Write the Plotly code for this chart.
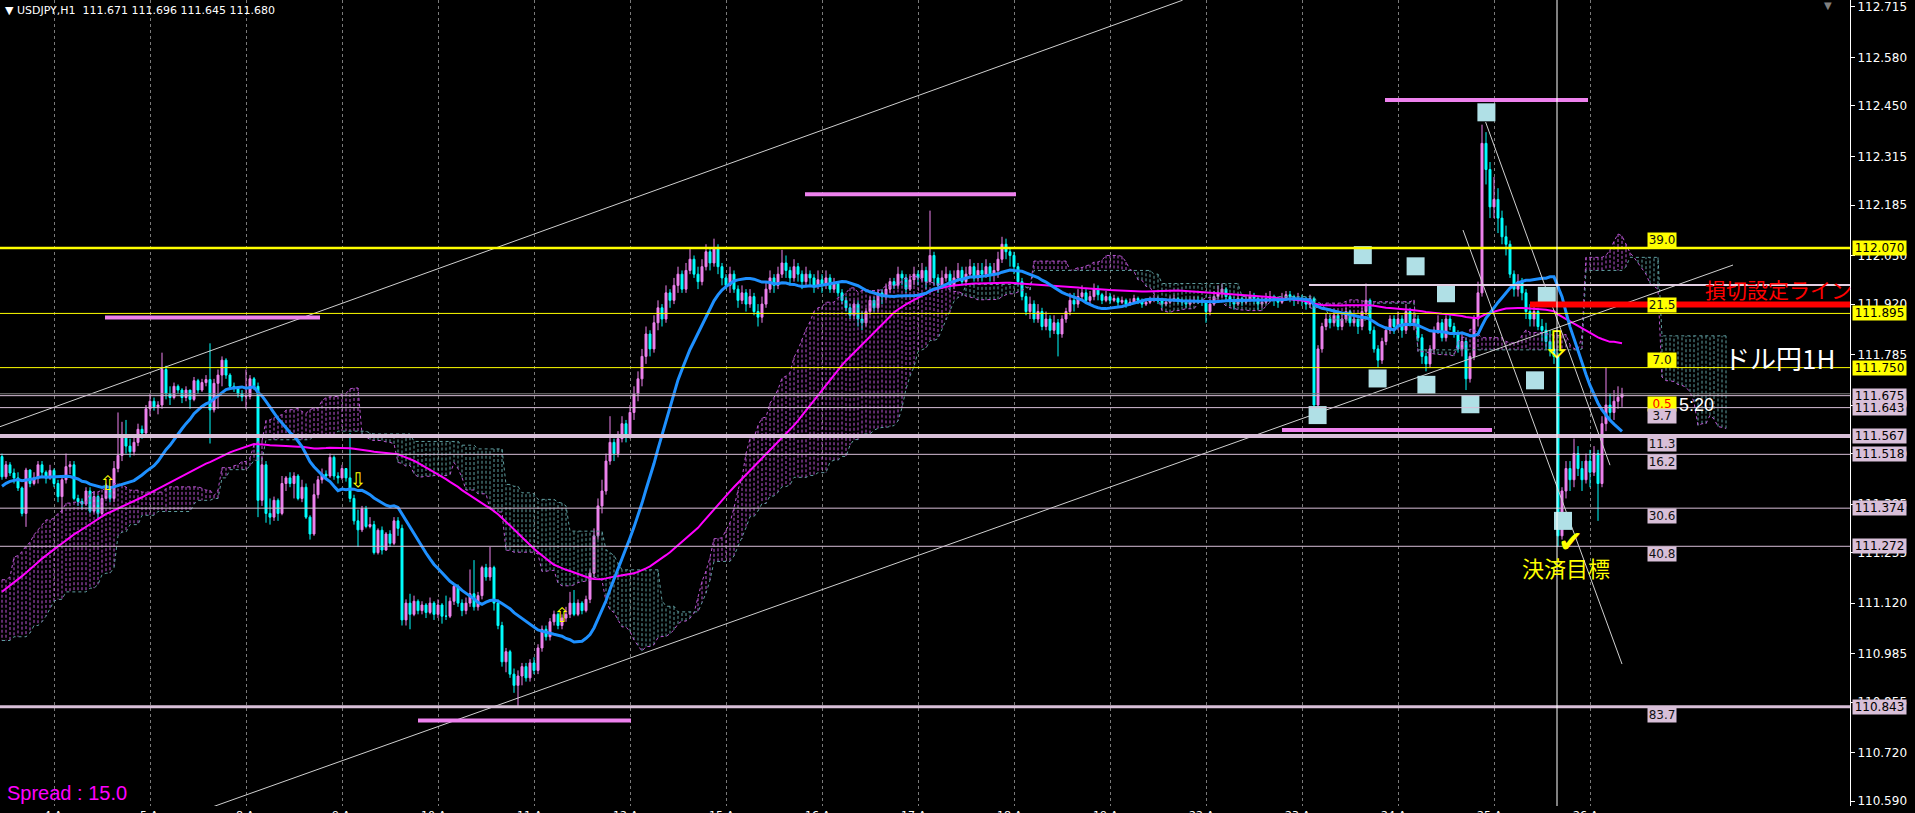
import numpy as np
import pandas as pd
import plotly.graph_objects as go

# ---------------- USDJPY H1 (April 2019) ----------------
# closes before the first visible bar (only used to warm up the indicators)
pre_close = [
    110.76, 110.78, 110.74, 110.80, 110.83, 110.79, 110.77, 110.81, 110.85, 110.82,
    110.78, 110.75, 110.72, 110.76, 110.80, 110.84, 110.81, 110.86, 110.88, 110.85,
    110.83, 110.87, 110.90, 110.86, 110.82, 110.84, 110.89, 110.92, 110.88, 110.91,
    111.08, 111.12, 111.10, 111.15, 111.18, 111.14, 111.20, 111.24, 111.21, 111.19,
    111.23, 111.27, 111.25, 111.22, 111.26, 111.30, 111.28, 111.24, 111.21, 111.25,
    111.29, 111.32, 111.30, 111.27, 111.31, 111.34, 111.31, 111.28, 111.33, 111.36,
    111.40, 111.38, 111.42, 111.45, 111.43, 111.39, 111.41, 111.44, 111.48, 111.46,
    111.43, 111.40, 111.44, 111.47, 111.50, 111.48, 111.45, 111.512,
]

close_apr03 = [111.458, 111.490, 111.468, 111.455, 111.428, 111.360, 111.476, 111.440, 111.455, 111.490, 111.470, 111.455, 111.475]
high_apr03 = [111.520, 111.500, 111.497, 111.480, 111.470, 111.432, 111.482, 111.478, 111.470, 111.500, 111.500, 111.475, 111.490]
low_apr03 = [111.450, 111.452, 111.460, 111.440, 111.420, 111.352, 111.324, 111.430, 111.435, 111.440, 111.460, 111.440, 111.450]

close_apr04 = [111.440, 111.405, 111.450, 111.485, 111.490, 111.400, 111.392, 111.385, 111.420, 111.366, 111.405, 111.360, 111.400, 111.425, 111.400, 111.480, 111.515, 111.570, 111.540, 111.525, 111.550, 111.585, 111.575, 111.640]
high_apr04 = [111.480, 111.450, 111.460, 111.520, 111.500, 111.500, 111.410, 111.400, 111.430, 111.430, 111.420, 111.410, 111.410, 111.440, 111.430, 111.500, 111.630, 111.605, 111.610, 111.560, 111.570, 111.600, 111.595, 111.650]
low_apr04 = [111.430, 111.390, 111.360, 111.440, 111.465, 111.395, 111.380, 111.370, 111.380, 111.360, 111.360, 111.345, 111.355, 111.400, 111.390, 111.390, 111.470, 111.500, 111.520, 111.510, 111.515, 111.540, 111.560, 111.570]

close_apr05 = [111.660, 111.645, 111.650, 111.745, 111.680, 111.670, 111.700, 111.690, 111.670, 111.690, 111.665, 111.715, 111.690, 111.710, 111.718, 111.637, 111.708, 111.730, 111.770, 111.730, 111.700, 111.695, 111.680, 111.672]
high_apr05 = [111.680, 111.670, 111.660, 111.790, 111.755, 111.700, 111.710, 111.705, 111.695, 111.700, 111.690, 111.725, 111.720, 111.720, 111.730, 111.815, 111.720, 111.745, 111.780, 111.775, 111.735, 111.710, 111.700, 111.690]
low_apr05 = [111.620, 111.635, 111.625, 111.640, 111.665, 111.650, 111.665, 111.680, 111.655, 111.660, 111.640, 111.660, 111.680, 111.685, 111.700, 111.547, 111.630, 111.640, 111.700, 111.720, 111.690, 111.685, 111.670, 111.660]

close_apr08 = [111.673, 111.720, 111.700, 111.395, 111.490, 111.360, 111.350, 111.395, 111.360, 111.440, 111.455, 111.440, 111.460, 111.400, 111.430, 111.350, 111.305, 111.410, 111.450, 111.465, 111.460, 111.510, 111.460, 111.455]
high_apr08 = [111.745, 111.730, 111.725, 111.710, 111.510, 111.500, 111.400, 111.405, 111.400, 111.460, 111.460, 111.470, 111.470, 111.465, 111.450, 111.440, 111.355, 111.440, 111.460, 111.480, 111.475, 111.520, 111.515, 111.470]
low_apr08 = [111.640, 111.665, 111.690, 111.350, 111.380, 111.335, 111.330, 111.340, 111.340, 111.355, 111.420, 111.430, 111.400, 111.395, 111.390, 111.345, 111.290, 111.300, 111.400, 111.440, 111.450, 111.455, 111.450, 111.440]

close_apr09 = [111.480, 111.455, 111.400, 111.340, 111.316, 111.373, 111.325, 111.330, 111.255, 111.315, 111.262, 111.305, 111.280, 111.340, 111.320, 111.075, 111.120, 111.090, 111.125, 111.100, 111.115, 111.095, 111.120, 111.090]
high_apr09 = [111.490, 111.480, 111.575, 111.410, 111.370, 111.380, 111.380, 111.350, 111.340, 111.320, 111.325, 111.310, 111.315, 111.350, 111.350, 111.330, 111.130, 111.145, 111.140, 111.130, 111.125, 111.120, 111.135, 111.125]
low_apr09 = [111.450, 111.445, 111.390, 111.330, 111.270, 111.310, 111.320, 111.320, 111.250, 111.250, 111.250, 111.260, 111.270, 111.275, 111.300, 111.060, 111.060, 111.050, 111.085, 111.090, 111.090, 111.080, 111.090, 111.075]

close_apr10 = [111.115, 111.085, 111.085, 111.125, 111.165, 111.120, 111.100, 111.120, 111.145, 111.110, 111.140, 111.215, 111.190, 111.215, 111.120, 111.060, 110.963, 110.990, 110.930, 110.900, 110.925, 110.950, 110.920, 110.960]
high_apr10 = [111.130, 111.120, 111.140, 111.135, 111.170, 111.170, 111.130, 111.135, 111.210, 111.235, 111.150, 111.220, 111.225, 111.270, 111.220, 111.130, 111.070, 111.000, 110.995, 110.945, 110.940, 110.960, 110.960, 110.970]
low_apr10 = [111.080, 111.065, 111.075, 111.080, 111.115, 111.110, 111.085, 111.090, 111.110, 111.100, 111.100, 111.130, 111.180, 111.180, 111.100, 111.050, 110.950, 110.935, 110.920, 110.880, 110.843, 110.900, 110.910, 110.910]

close_apr11 = [110.940, 111.000, 111.050, 111.030, 111.070, 111.090, 111.060, 111.080, 111.090, 111.120, 111.090, 111.120, 111.100, 111.130, 111.200, 111.300, 111.380, 111.420, 111.500, 111.550, 111.520, 111.560, 111.600, 111.570]
high_apr11 = [110.975, 111.010, 111.060, 111.060, 111.080, 111.100, 111.095, 111.090, 111.110, 111.150, 111.155, 111.130, 111.125, 111.140, 111.210, 111.320, 111.400, 111.450, 111.520, 111.620, 111.560, 111.580, 111.620, 111.610]
low_apr11 = [110.930, 110.930, 110.990, 111.020, 111.020, 111.060, 111.050, 111.050, 111.070, 111.080, 111.085, 111.085, 111.090, 111.095, 111.120, 111.190, 111.290, 111.360, 111.410, 111.490, 111.500, 111.510, 111.550, 111.550]

close_apr12 = [111.630, 111.680, 111.720, 111.780, 111.840, 111.800, 111.870, 111.910, 111.880, 111.950, 111.930, 111.970, 112.000, 111.960, 112.010, 112.040, 112.000, 111.980, 112.020, 112.060, 112.030, 112.070, 112.020, 111.990]
high_apr12 = [111.650, 111.700, 111.740, 111.800, 111.860, 111.850, 111.890, 111.930, 111.920, 111.970, 111.960, 111.990, 112.020, 112.010, 112.030, 112.070, 112.050, 112.020, 112.040, 112.080, 112.070, 112.095, 112.080, 112.030]
low_apr12 = [111.560, 111.610, 111.660, 111.700, 111.760, 111.780, 111.790, 111.850, 111.860, 111.870, 111.910, 111.920, 111.950, 111.950, 111.950, 112.000, 111.990, 111.960, 111.970, 112.010, 112.010, 112.020, 112.000, 111.970]

close_apr15 = [111.970, 112.000, 111.960, 111.930, 111.950, 111.920, 111.940, 111.900, 111.885, 111.920, 111.960, 111.990, 111.970, 112.000, 112.030, 112.010, 111.990, 112.020, 112.000, 111.980, 112.000, 111.990, 111.970, 111.985]
high_apr15 = [112.000, 112.020, 112.010, 111.970, 111.970, 111.960, 111.960, 111.950, 111.920, 111.940, 111.980, 112.010, 112.000, 112.020, 112.065, 112.050, 112.020, 112.040, 112.030, 112.010, 112.020, 112.010, 112.000, 112.010]
low_apr15 = [111.960, 111.950, 111.950, 111.910, 111.920, 111.900, 111.910, 111.890, 111.860, 111.870, 111.910, 111.950, 111.950, 111.960, 111.990, 111.990, 111.970, 111.980, 111.980, 111.960, 111.970, 111.970, 111.950, 111.960]

close_apr16 = [111.970, 111.990, 111.960, 111.975, 111.950, 111.930, 111.910, 111.890, 111.920, 111.880, 111.870, 111.900, 111.930, 111.910, 111.950, 111.940, 111.960, 111.980, 111.970, 112.000, 111.990, 111.960, 111.985, 112.000]
high_apr16 = [112.000, 112.010, 112.000, 111.990, 111.980, 111.960, 111.940, 111.920, 111.930, 111.930, 111.900, 111.910, 111.940, 111.940, 111.960, 111.960, 111.975, 111.990, 111.990, 112.020, 112.010, 112.000, 112.000, 112.020]
low_apr16 = [111.950, 111.960, 111.950, 111.950, 111.940, 111.920, 111.900, 111.880, 111.880, 111.860, 111.850, 111.860, 111.890, 111.900, 111.900, 111.920, 111.930, 111.950, 111.960, 111.960, 111.970, 111.950, 111.955, 111.970]

close_apr17 = [111.990, 112.010, 111.980, 112.050, 111.990, 111.970, 111.990, 112.000, 111.970, 111.990, 112.010, 111.980, 112.000, 112.020, 111.990, 112.010, 112.000, 112.020, 112.000, 112.010, 112.040, 112.080, 112.060, 112.050]
high_apr17 = [112.010, 112.030, 112.020, 112.170, 112.060, 112.000, 112.010, 112.020, 112.010, 112.010, 112.030, 112.020, 112.020, 112.040, 112.030, 112.030, 112.030, 112.040, 112.030, 112.030, 112.060, 112.100, 112.095, 112.070]
low_apr17 = [111.970, 111.980, 111.960, 111.980, 111.970, 111.950, 111.960, 111.980, 111.960, 111.960, 111.980, 111.970, 111.970, 111.990, 111.980, 111.980, 111.980, 111.990, 111.980, 111.980, 111.990, 112.030, 112.040, 112.020]

close_apr18 = [112.020, 111.980, 111.940, 111.900, 111.920, 111.880, 111.900, 111.860, 111.880, 111.850, 111.870, 111.840, 111.880, 111.900, 111.930, 111.920, 111.940, 111.950, 111.930, 111.940, 111.960, 111.945, 111.930, 111.940]
high_apr18 = [112.060, 112.030, 111.990, 111.950, 111.940, 111.930, 111.920, 111.910, 111.900, 111.890, 111.890, 111.880, 111.890, 111.910, 111.950, 111.950, 111.960, 111.970, 111.960, 111.955, 111.975, 111.970, 111.950, 111.955]
low_apr18 = [112.000, 111.970, 111.930, 111.890, 111.880, 111.870, 111.870, 111.850, 111.850, 111.830, 111.840, 111.780, 111.830, 111.870, 111.890, 111.900, 111.910, 111.930, 111.920, 111.920, 111.930, 111.930, 111.920, 111.925]

close_apr19 = [111.930, 111.935, 111.925, 111.930, 111.920, 111.925, 111.935, 111.930, 111.920, 111.925, 111.930, 111.935, 111.928, 111.920, 111.925, 111.930, 111.935, 111.930, 111.925, 111.920, 111.925, 111.930, 111.928, 111.925]
high_apr19 = [111.950, 111.945, 111.940, 111.940, 111.935, 111.935, 111.945, 111.940, 111.935, 111.935, 111.940, 111.945, 111.940, 111.935, 111.935, 111.940, 111.945, 111.940, 111.935, 111.935, 111.935, 111.940, 111.940, 111.935]
low_apr19 = [111.920, 111.925, 111.915, 111.920, 111.910, 111.915, 111.920, 111.920, 111.910, 111.915, 111.920, 111.925, 111.920, 111.910, 111.915, 111.920, 111.925, 111.920, 111.915, 111.910, 111.915, 111.920, 111.920, 111.915]

close_apr22 = [111.900, 111.920, 111.940, 111.950, 111.960, 111.940, 111.930, 111.920, 111.935, 111.925, 111.930, 111.940, 111.935, 111.920, 111.925, 111.935, 111.940, 111.930, 111.925, 111.935, 111.945, 111.940, 111.930, 111.935]
high_apr22 = [111.930, 111.935, 111.955, 111.970, 111.975, 111.965, 111.945, 111.940, 111.945, 111.940, 111.945, 111.955, 111.950, 111.940, 111.940, 111.950, 111.955, 111.945, 111.940, 111.950, 111.955, 111.955, 111.945, 111.950]
low_apr22 = [111.870, 111.890, 111.915, 111.930, 111.935, 111.930, 111.915, 111.905, 111.915, 111.915, 111.920, 111.925, 111.920, 111.905, 111.910, 111.920, 111.925, 111.915, 111.910, 111.920, 111.930, 111.925, 111.915, 111.920]

close_apr23 = [111.930, 111.920, 111.935, 111.650, 111.800, 111.860, 111.880, 111.870, 111.890, 111.860, 111.880, 111.900, 111.870, 111.880, 111.860, 111.900, 111.930, 111.850, 111.800, 111.770, 111.820, 111.850, 111.880, 111.860]
high_apr23 = [111.945, 111.940, 111.945, 111.940, 111.810, 111.870, 111.895, 111.890, 111.905, 111.895, 111.890, 111.910, 111.905, 111.890, 111.880, 111.910, 111.975, 111.935, 111.860, 111.810, 111.830, 111.860, 111.890, 111.890]
low_apr23 = [111.915, 111.905, 111.910, 111.620, 111.640, 111.790, 111.850, 111.855, 111.860, 111.850, 111.850, 111.870, 111.860, 111.860, 111.840, 111.850, 111.890, 111.840, 111.790, 111.750, 111.760, 111.810, 111.840, 111.840]

close_apr24 = [111.880, 111.850, 111.900, 111.870, 111.880, 111.830, 111.780, 111.760, 111.800, 111.850, 111.870, 111.830, 111.880, 111.860, 111.840, 111.800, 111.820, 111.720, 111.780, 111.880, 111.950, 112.350, 112.280, 112.180]
high_apr24 = [111.900, 111.890, 111.920, 111.910, 111.900, 111.890, 111.840, 111.790, 111.810, 111.860, 111.890, 111.880, 111.890, 111.890, 111.870, 111.850, 111.840, 111.830, 111.790, 111.890, 111.980, 112.400, 112.380, 112.300]
low_apr24 = [111.850, 111.830, 111.840, 111.860, 111.850, 111.820, 111.760, 111.740, 111.750, 111.790, 111.840, 111.820, 111.820, 111.850, 111.830, 111.790, 111.780, 111.690, 111.710, 111.770, 111.860, 111.940, 112.240, 112.150]

close_apr25 = [112.200, 112.150, 112.100, 112.080, 112.000, 111.960, 111.980, 111.950, 111.900, 111.880, 111.900, 111.860, 111.850, 111.820, 111.800, 111.780, 111.300, 111.420, 111.480, 111.450, 111.520, 111.480, 111.450, 111.500]
high_apr25 = [112.260, 112.230, 112.170, 112.130, 112.090, 112.010, 112.000, 111.990, 111.960, 111.920, 111.920, 111.910, 111.880, 111.870, 111.850, 111.820, 111.790, 111.430, 111.500, 111.500, 111.560, 111.540, 111.500, 111.520]
low_apr25 = [112.150, 112.110, 112.080, 112.050, 111.990, 111.940, 111.940, 111.930, 111.880, 111.860, 111.860, 111.850, 111.820, 111.800, 111.780, 111.760, 111.270, 111.290, 111.400, 111.420, 111.430, 111.460, 111.420, 111.440]

close_apr26 = [111.470, 111.520, 111.440, 111.600, 111.650, 111.630, 111.660, 111.671, 111.680]
high_apr26 = [111.530, 111.540, 111.530, 111.620, 111.750, 111.680, 111.690, 111.700, 111.696]
low_apr26 = [111.430, 111.460, 111.340, 111.430, 111.580, 111.610, 111.610, 111.640, 111.645]

day_labels = ["4 Apr", "5 Apr", "8 Apr", "9 Apr", "10 Apr", "11 Apr", "12 Apr", "15 Apr", "16 Apr",
              "17 Apr", "18 Apr", "19 Apr", "22 Apr", "23 Apr", "24 Apr", "25 Apr", "26 Apr"]
day_start_bar = [13, 37, 61, 85, 109, 133, 157, 181, 205, 229, 253, 277, 301, 325, 349, 373, 397]

price_ticks = [112.715, 112.580, 112.450, 112.315, 112.185, 112.050, 111.920, 111.785, 111.650,
               111.520, 111.385, 111.255, 111.120, 110.985, 110.855, 110.720, 110.590]

# horizontal levels with distance (pips) labels
level_prices = [112.070, 111.895, 111.750, 111.675, 111.643, 111.567, 111.518, 111.374, 111.272, 110.843]
level_pips = ["39.0", "21.5", "7.0", "0.5", "3.7", "11.3", "16.2", "30.6", "40.8", "83.7"]
level_kind = ["y", "y", "y", "p", "p", "p", "p", "p", "p", "p"]
level_width = [2.5, 1, 1, 1, 1, 4, 1, 1, 1, 3]
bid_price = 111.680
stop_price = 111.919
stop_from_bar = 382
box_top_price = 111.971
box_top_from_bar = 326.75
pip_label_bar = 411.25
vline_bar = 388.75

# violet support/resistance segments
seg_x0 = [25.75, 200.75, 345.75, 104.0, 320.0]
seg_x1 = [79.5, 253.5, 396.5, 157.25, 372.5]
seg_y = [111.884, 112.214, 112.466, 110.806, 111.583]

# white trend lines (bar, price) pairs
trend_x = [[-0.5, 295.15], [48.5, 432.75], [370.9, 402.0], [365.25, 405.0]]
trend_y = [[111.592, 112.733], [110.559, 112.0245], [112.407, 111.489], [112.118, 110.957]]

# light-blue marker squares
sq_bar = [340.2, 353.4, 361.0, 343.9, 356.1, 367.1, 328.9, 371.1, 386.2, 383.25, 390.25]
sq_price = [112.051, 112.021, 111.949, 111.721, 111.704, 111.652, 111.623, 112.433, 111.942, 111.716, 111.340]

# yellow arrows
arrow_bar = [26.4, 89.0, 140.0, 388.75]
arrow_price = [111.437, 111.445, 111.084, 111.800]
arrow_sym = ["⇧", "⇩", "⇧", "⇩"]
arrow_size = [20, 20, 20, 38]

# ---------------- assemble ----------------
days_close = [close_apr03, close_apr04, close_apr05, close_apr08, close_apr09, close_apr10, close_apr11,
              close_apr12, close_apr15, close_apr16, close_apr17, close_apr18, close_apr19, close_apr22,
              close_apr23, close_apr24, close_apr25, close_apr26]
days_high = [high_apr03, high_apr04, high_apr05, high_apr08, high_apr09, high_apr10, high_apr11,
             high_apr12, high_apr15, high_apr16, high_apr17, high_apr18, high_apr19, high_apr22,
             high_apr23, high_apr24, high_apr25, high_apr26]
days_low = [low_apr03, low_apr04, low_apr05, low_apr08, low_apr09, low_apr10, low_apr11,
            low_apr12, low_apr15, low_apr16, low_apr17, low_apr18, low_apr19, low_apr22,
            low_apr23, low_apr24, low_apr25, low_apr26]

close = np.array([v for d in days_close for v in d])
high = np.array([v for d in days_high for v in d])
low = np.array([v for d in days_low for v in d])
n = min(len(close), len(high), len(low))
close, high, low = close[:n], high[:n], low[:n]
opn = np.concatenate([[pre_close[-1]], close[:-1]])
high = np.maximum(high, np.maximum(opn, close))
low = np.minimum(low, np.minimum(opn, close))
bars = np.arange(n)

P = len(pre_close)
all_c = pd.Series(list(pre_close) + list(close))
all_h = pd.Series(list(pre_close) + list(high))
all_l = pd.Series(list(pre_close) + list(low))
ma_fast = all_c.rolling(21).mean().values[P:]
ma_slow = all_c.rolling(75).mean().values[P:]
tenkan = (all_h.rolling(9).max() + all_l.rolling(9).min()) / 2
kijun = (all_h.rolling(26).max() + all_l.rolling(26).min()) / 2
span_a_raw = ((tenkan + kijun) / 2).values
span_b_raw = ((all_h.rolling(52).max() + all_l.rolling(52).min()) / 2).values
cloud_t = np.arange(0, n + 26)
src = cloud_t + P - 26
span_a = span_a_raw[src]
span_b = span_b_raw[src]

VIOLET = "#EE82EE"
CYAN = "#00FFFF"
THISTLE = "#D8BFD8"
YELLOW = "#FFFF00"
PINK_CLOUD = "#BA55D3"
TEAL_CLOUD = "#5F9EA0"

X_MIN, X_MAX = -0.5, 462.0
Y_MIN, Y_MAX = 110.5772, 112.7335

fig = go.Figure()

# cloud hatch
for col, up in ((PINK_CLOUD, True), (TEAL_CLOUD, False)):
    xs, ys = [], []
    for t, a, b in zip(cloud_t, span_a, span_b):
        if np.isnan(a) or np.isnan(b):
            continue
        if (a >= b) == up:
            xs += [t, t, None]
            ys += [a, b, None]
    fig.add_trace(go.Scatter(x=xs, y=ys, mode="lines", line=dict(color=col, width=1, dash="3px,2px"),
                             hoverinfo="skip", showlegend=False))
fig.add_trace(go.Scatter(x=cloud_t, y=span_a, mode="lines", line=dict(color=PINK_CLOUD, width=1, dash="dot"),
                         hoverinfo="skip", showlegend=False))
fig.add_trace(go.Scatter(x=cloud_t, y=span_b, mode="lines", line=dict(color=TEAL_CLOUD, width=1, dash="dot"),
                         hoverinfo="skip", showlegend=False))

# candles
fig.add_trace(go.Candlestick(
    x=bars, open=opn, high=high, low=low, close=close,
    increasing=dict(line=dict(color=VIOLET, width=1), fillcolor=VIOLET),
    decreasing=dict(line=dict(color=CYAN, width=1), fillcolor=CYAN),
    whiskerwidth=0, hoverinfo="skip", showlegend=False))

# moving averages
fig.add_trace(go.Scatter(x=bars, y=ma_slow, mode="lines", line=dict(color="#FF00FF", width=2),
                         hoverinfo="skip", showlegend=False))
fig.add_trace(go.Scatter(x=bars, y=ma_fast, mode="lines", line=dict(color="#1E90FF", width=3),
                         hoverinfo="skip", showlegend=False))

# trend lines
for tx, ty in zip(trend_x, trend_y):
    fig.add_trace(go.Scatter(x=tx, y=ty, mode="lines", line=dict(color="#D0D0D0", width=1),
                             hoverinfo="skip", showlegend=False))

# violet segments
for x0, x1, y in zip(seg_x0, seg_x1, seg_y):
    fig.add_trace(go.Scatter(x=[x0, x1], y=[y, y], mode="lines", line=dict(color=VIOLET, width=4),
                             hoverinfo="skip", showlegend=False))

# squares
fig.add_trace(go.Scatter(x=sq_bar, y=sq_price, mode="markers",
                         marker=dict(symbol="square", size=18, color="#B0E0E6"),
                         hoverinfo="skip", showlegend=False))

# arrows
fig.add_trace(go.Scatter(x=arrow_bar, y=arrow_price, mode="text", text=arrow_sym,
                         textfont=dict(color=YELLOW, size=arrow_size, family="DejaVu Sans"),
                         hoverinfo="skip", showlegend=False))

shapes = []
for p, k, w in zip(level_prices, level_kind, level_width):
    shapes.append(dict(type="line", xref="paper", x0=0, x1=1, yref="y", y0=p, y1=p,
                       line=dict(color=YELLOW if k == "y" else THISTLE, width=w)))
shapes.append(dict(type="line", xref="paper", x0=0, x1=1, yref="y", y0=bid_price, y1=bid_price,
                   line=dict(color="#808080", width=1)))
shapes.append(dict(type="line", xref="x", x0=box_top_from_bar, x1=X_MAX, yref="y", y0=box_top_price,
                   y1=box_top_price, line=dict(color="#E4CFE4", width=2)))
shapes.append(dict(type="line", xref="x", x0=stop_from_bar, x1=X_MAX, yref="y", y0=stop_price,
                   y1=stop_price, line=dict(color="#FF0000", width=6)))
shapes.append(dict(type="line", xref="x", x0=vline_bar, x1=vline_bar, yref="paper", y0=0, y1=1,
                   line=dict(color="white", width=1)))

ann = []
# price boxes on the axis
for p, k in zip(level_prices, level_kind):
    ann.append(dict(xref="paper", x=1, xanchor="left", xshift=2, yref="y", y=p, yanchor="middle",
                    text=f"{p:.3f}", showarrow=False, bgcolor=YELLOW if k == "y" else THISTLE,
                    font=dict(family="DejaVu Sans", size=12, color="black"), width=53, borderpad=0))
# pip labels
for p, t, k in zip(level_prices, level_pips, level_kind):
    above = k == "y"
    ann.append(dict(xref="x", x=pip_label_bar, xanchor="left", yref="y", y=p,
                    yanchor="bottom" if above else "top", text=t, showarrow=False,
                    bgcolor=YELLOW if (k == "y" or t == "0.5") else THISTLE,
                    font=dict(family="DejaVu Sans", size=12, color="#FF0000" if t == "0.5" else "#101010"),
                    width=28, borderpad=0))
# day labels (mostly cut by the window bottom)
for lab, b in zip(day_labels, day_start_bar):
    ann.append(dict(xref="x", x=b, xanchor="left", xshift=-(7 * len(lab.split()[0]) + 5),
                    yref="paper", y=0, yanchor="top", yshift=-1, text=lab, showarrow=False,
                    font=dict(family="DejaVu Sans", size=11, color="white")))
# texts
ann.append(dict(xref="paper", x=0, xanchor="left", xshift=3, yref="paper", y=1, yanchor="top", yshift=-2,
                text="▼ USDJPY,H1\u00a0\u00a0111.671 111.696 111.645 111.680", showarrow=False,
                font=dict(family="DejaVu Sans", size=11, color="white")))
ann.append(dict(xref="paper", x=0, xanchor="left", xshift=5, yref="paper", y=0, yanchor="bottom", yshift=0,
                text="Spread : 15.0", showarrow=False,
                font=dict(family="Liberation Sans", size=20, color="#FF00FF")))
ann.append(dict(xref="x", x=425.25, xanchor="left", yref="y", y=111.960, yanchor="middle",
                text="損切設定ライン", showarrow=False,
                font=dict(family="Noto Sans CJK JP", size=21, color="#FF0000")))
ann.append(dict(xref="x", x=430.0, xanchor="left", yref="y", y=111.776, yanchor="middle",
                text="ドル円1H", showarrow=False,
                font=dict(family="Noto Sans CJK JP", size=26, color="white")))
ann.append(dict(xref="x", x=379.5, xanchor="left", yref="y", y=111.217, yanchor="middle",
                text="決済目標", showarrow=False,
                font=dict(family="Noto Sans CJK JP", size=22, color=YELLOW)))
ann.append(dict(xref="x", x=392.0, xanchor="center", yref="y", y=111.286, yanchor="middle",
                text="✔", showarrow=False,
                font=dict(family="DejaVu Sans", size=30, color=YELLOW)))
ann.append(dict(xref="x", x=418.75, xanchor="left", yref="y", y=111.651, yanchor="middle",
                text="5:20", showarrow=False,
                font=dict(family="Liberation Sans", size=18, color="white")))
ann.append(dict(xref="paper", x=0.9881, xanchor="center", yref="paper", y=1, yanchor="top", yshift=2,
                text="▼", showarrow=False, font=dict(family="DejaVu Sans", size=10, color="#808080")))

fig.update_layout(
    width=1915, height=813,
    margin=dict(l=0, r=65, t=0, b=7),
    paper_bgcolor="black", plot_bgcolor="black",
    showlegend=False, hovermode=False,
    boxgap=0.3, boxgroupgap=0.3,
    shapes=shapes, annotations=ann,
    xaxis=dict(range=[X_MIN, X_MAX], tickvals=day_start_bar, showticklabels=False, ticks="",
               showgrid=True, gridcolor="#7A7A7A", griddash="3px,3px", gridwidth=1,
               zeroline=False, showline=False, rangeslider=dict(visible=False), fixedrange=True),
    yaxis=dict(range=[Y_MIN, Y_MAX], side="right", tickvals=price_ticks,
               ticktext=[f"{v:.3f}" for v in price_ticks], showgrid=False, zeroline=False,
               showline=True, linecolor="white", linewidth=1, ticks="outside", ticklen=4,
               tickcolor="white", tickfont=dict(family="DejaVu Sans", size=12, color="white"),
               fixedrange=True),
)

fig.write_html("out.html", config={"displayModeBar": False},
               post_script="document.body.style.margin='0';document.body.style.overflow='hidden';")
